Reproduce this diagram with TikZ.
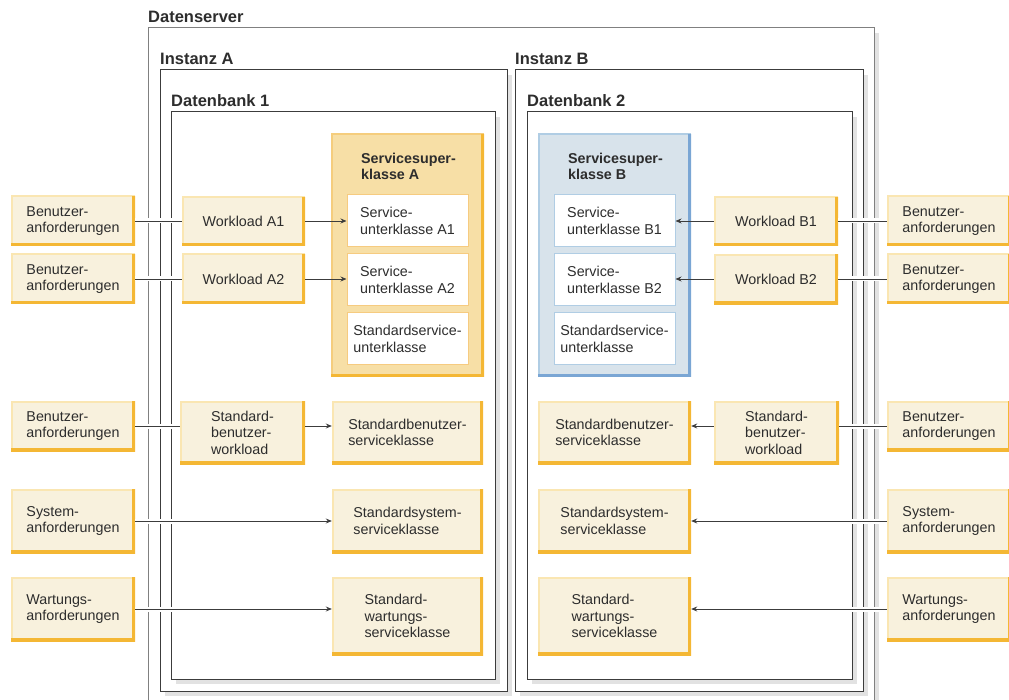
\documentclass[tikz,border=0pt]{standalone}
\usepackage{fontspec}
\setmainfont{Liberation Sans}
\usetikzlibrary{arrows.meta}

\definecolor{cream}{RGB}{248,241,221}
\definecolor{creamlight}{RGB}{250,230,178}
\definecolor{edgeorange}{RGB}{244,183,52}
\definecolor{supAfill}{RGB}{247,223,166}
\definecolor{supAline}{RGB}{245,205,125}
\definecolor{subAline}{RGB}{246,203,128}
\definecolor{supBfill}{RGB}{216,227,235}
\definecolor{supBline}{RGB}{176,205,228}
\definecolor{supBedge}{RGB}{122,166,212}
\definecolor{framegray}{RGB}{60,60,60}
\definecolor{outergray}{RGB}{128,128,128}
\definecolor{shadowgray}{RGB}{226,226,226}
\definecolor{linegray}{RGB}{60,60,60}
\definecolor{txt}{RGB}{45,45,45}

% frame with a light shadow to the right and below
\newcommand{\shadowframe}[5][framegray]{%
  \fill[shadowgray] (#2+5,#5+1) rectangle (#4+5,#5+5);
  \fill[shadowgray] (#4+1,#3+5) rectangle (#4+5,#5+5);
  \draw[frame, draw=#1] (#2,#3) rectangle (#4,#5);}

\begin{document}
\begin{tikzpicture}[x=1pt, y=-1pt, >={Stealth[length=6pt,width=5pt]},
  bevel/.style 2 args={path picture={
    \draw[#1, line width=3pt] (path picture bounding box.south west) -- (path picture bounding box.north west) -- (path picture bounding box.north east);
    \draw[#2, line width=6pt] (path picture bounding box.south west) -- (path picture bounding box.south east) -- (path picture bounding box.north east);}},
  btn/.style={fill=cream, bevel={creamlight}{edgeorange}, inner sep=0pt, align=left, text=txt,
    font=\fontsize{14.3}{16.5}\selectfont, minimum width=124pt, minimum height=50pt},
  sub/.style={fill=white, draw=#1, line width=1pt, inner sep=0pt, align=left, text=txt,
    font=\fontsize{14.3}{16.5}\selectfont, minimum width=121pt, minimum height=52pt},
  supbox/.style={inner sep=0pt, minimum width=153pt, minimum height=243pt},
  suptitle/.style={anchor=west, inner sep=0pt, align=left, text=txt, font=\fontsize{14.3}{16.5}\selectfont\bfseries},
  framelabel/.style={anchor=west, inner sep=0pt, text=txt, font=\fontsize{16.5}{19}\selectfont\bfseries},
  frame/.style={draw=framegray, line width=1pt},
  link/.style={draw=linegray, line width=0.9pt},
  cross/.style={link, preaction={draw=white, line width=5pt, arrows=-}}]
\useasboundingbox (0,0) rectangle (1009,700);

% frames
\shadowframe[outergray]{148}{28}{874}{706}
\shadowframe{160}{70}{507}{691}
\shadowframe{515}{70}{863}{691}
\shadowframe{171}{112}{495}{679}
\shadowframe{527}{112}{852}{679}
\node[framelabel] (srv) at (148,17) {Datenserver};
\node[framelabel] (insA) at (160,59) {Instanz A};
\node[framelabel] (insB) at (515,59) {Instanz B};
\node[framelabel] (dbA) at (171,101) {Datenbank 1};
\node[framelabel] (dbB) at (527,101) {Datenbank 2};

% service superclasses
\node[supbox, fill=supAfill, bevel={supAline}{edgeorange}] (supA) at (407.5,255.5) {};
\node[supbox, fill=supBfill, bevel={supBline}{supBedge}] (supB) at (614.5,255.5) {};
\node[suptitle] (tA) at (361,166.5) {Servicesuper-\\klasse A};
\node[suptitle] (tB) at (568,166.5) {Servicesuper-\\klasse B};
\node[sub=subAline] (sa1) at (407.5,221) {Service-\\unterklasse A1};
\node[sub=subAline] (sa2) at (407.5,280) {Service-\\unterklasse A2};
\node[sub=subAline] (sa3) at (407.5,339) {Standardservice-\\unterklasse};
\node[sub=supBline] (sb1) at (614.5,221) {Service-\\unterklasse B1};
\node[sub=supBline] (sb2) at (614.5,280) {Service-\\unterklasse B2};
\node[sub=supBline] (sb3) at (614.5,339) {Standardservice-\\unterklasse};

% requests, left
\node[btn] (rl1) at (73,221) {Benutzer-\\anforderungen};
\node[btn] (rl2) at (73,279) {Benutzer-\\anforderungen};
\node[btn] (rl3) at (73,426) {Benutzer-\\anforderungen};
\node[btn, minimum height=64pt] (rl4) at (73,521) {System-\\anforderungen};
\node[btn, minimum height=64pt] (rl5) at (73,609) {Wartungs-\\anforderungen};

% requests, right
\node[btn] (rr1) at (949,221) {Benutzer-\\anforderungen};
\node[btn] (rr2) at (949,279) {Benutzer-\\anforderungen};
\node[btn] (rr3) at (949,426) {Benutzer-\\anforderungen};
\node[btn, minimum height=64pt] (rr4) at (949,521) {System-\\anforderungen};
\node[btn, minimum height=64pt] (rr5) at (949,609) {Wartungs-\\anforderungen};

% workloads
\node[btn, minimum width=123pt, minimum height=49pt] (wa1) at (243.5,221.5) {Workload A1};
\node[btn, minimum width=123pt] (wa2) at (243.5,279) {Workload A2};
\node[btn, minimum width=125pt, minimum height=63pt] (wa3) at (242.5,432.5) {Standard-\\benutzer-\\workload};
\node[btn, minimum height=49pt] (wb1) at (776,221.5) {Workload B1};
\node[btn] (wb2) at (776,279.5) {Workload B2};
\node[btn, minimum width=125pt, minimum height=63pt] (wb3) at (776.5,432.5) {Standard-\\benutzer-\\workload};

% default service classes
\node[btn, minimum width=151pt, minimum height=63pt] (ca3) at (407.5,432.5) {Standardbenutzer-\\serviceklasse};
\node[btn, minimum width=151pt, minimum height=64pt] (ca4) at (407.5,521) {Standardsystem-\\serviceklasse};
\node[btn, minimum width=151pt, minimum height=78pt] (ca5) at (407.5,616) {Standard-\\wartungs-\\serviceklasse};
\node[btn, minimum width=153pt, minimum height=63pt] (cb3) at (614.5,432.5) {Standardbenutzer-\\serviceklasse};
\node[btn, minimum width=153pt, minimum height=64pt] (cb4) at (614.5,521) {Standardsystem-\\serviceklasse};
\node[btn, minimum width=153pt, minimum height=78pt] (cb5) at (614.5,616) {Standard-\\wartungs-\\serviceklasse};

% connectors
\draw[cross] (rl1) -- (wa1.west |- rl1);
\draw[cross] (rl2) -- (wa2.west |- rl2);
\draw[cross] (rl3) -- (wa3.west |- rl3);
\draw[link, ->] (wa1.east |- rl1) -- (sa1.west |- rl1);
\draw[link, ->] (wa2.east |- rl2) -- (sa2.west |- rl2);
\draw[link, ->] (wa3.east |- rl3) -- (ca3.west |- rl3);
\draw[cross, ->] (rl4) -- (ca4.west |- rl4);
\draw[cross, ->] (rl5) -- (ca5.west |- rl5);

\draw[cross] (rr1) -- (wb1.east |- rr1);
\draw[cross] (rr2) -- (wb2.east |- rr2);
\draw[cross] (rr3) -- (wb3.east |- rr3);
\draw[link, ->] (wb1.west |- rr1) -- (sb1.east |- rr1);
\draw[link, ->] (wb2.west |- rr2) -- (sb2.east |- rr2);
\draw[link, ->] (wb3.west |- rr3) -- (cb3.east |- rr3);
\draw[cross, ->] (rr4) -- (cb4.east |- rr4);
\draw[cross, ->] (rr5) -- (cb5.east |- rr5);
\end{tikzpicture}
\end{document}
